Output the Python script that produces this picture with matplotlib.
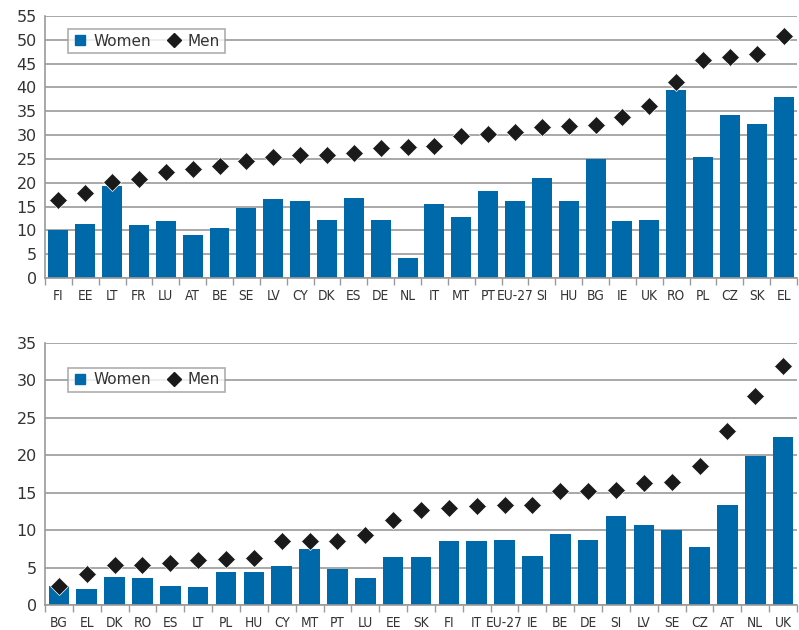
import numpy as np
import matplotlib
matplotlib.use("Agg")
import matplotlib.pyplot as plt
from matplotlib.lines import Line2D

# top panel
top_countries = ["FI", "EE", "LT", "FR", "LU", "AT", "BE", "SE", "LV", "CY", "DK", "ES", "DE", "NL",
                 "IT", "MT", "PT", "EU-27", "SI", "HU", "BG", "IE", "UK", "RO", "PL", "CZ", "SK", "EL"]
top_women = [10.0, 11.4, 19.4, 11.2, 11.9, 9.1, 10.6, 14.6, 16.5, 16.1, 12.1, 16.9, 12.1, 4.1,
             15.6, 12.9, 18.2, 16.1, 20.9, 16.1, 24.9, 11.9, 12.1, 39.4, 25.5, 34.2, 32.3, 38.0]
top_men = [16.4, 17.8, 20.1, 20.8, 22.2, 22.9, 23.6, 24.6, 25.3, 25.8, 25.8, 26.2, 27.3, 27.4,
           27.8, 29.8, 30.2, 30.7, 31.7, 32.0, 32.1, 33.8, 36.1, 41.1, 45.7, 46.3, 47.1, 50.7]

# bottom panel
bot_countries = ["BG", "EL", "DK", "RO", "ES", "LT", "PL", "HU", "CY", "MT", "PT", "LU", "EE", "SK",
                 "FI", "IT", "EU-27", "IE", "BE", "DE", "SI", "LV", "SE", "CZ", "AT", "NL", "UK"]
bot_women = [2.6, 2.2, 3.7, 3.6, 2.5, 2.4, 4.4, 4.4, 5.2, 7.5, 4.8, 3.6, 6.4, 6.4,
             8.5, 8.5, 8.7, 6.5, 9.5, 8.7, 11.9, 10.7, 10.0, 7.7, 13.3, 19.9, 22.5]
bot_men = [2.6, 4.2, 5.3, 5.4, 5.6, 6.0, 6.2, 6.3, 8.6, 8.6, 8.6, 9.3, 11.3, 12.7,
           12.9, 13.2, 13.4, 13.4, 15.2, 15.2, 15.4, 16.3, 16.4, 18.6, 23.3, 27.9, 31.9]

blue = "#0069AA"
grey = "#9a9a9a"


def draw_panel(ax, countries, women, men, ymax, leg_y):
    x = np.arange(len(countries))
    ax.set_axisbelow(True)
    ax.yaxis.grid(True, color=grey, linewidth=1.2)
    ax.bar(x, women, width=0.74, color=blue, zorder=2)
    ax.plot(x, men, linestyle="none", marker="D", markersize=9, color="#1a1a1a",
            markeredgecolor="white", markeredgewidth=0.5, zorder=3, clip_on=False)
    ax.set_xlim(-0.5, len(countries) - 0.5)
    ax.set_ylim(0, ymax)
    ax.set_yticks(np.arange(0, ymax + 1, 5))
    ax.set_xticks(x)
    ax.set_xticklabels(countries, fontsize=9.8, family="DejaVu Sans", stretch="condensed",
                       color="#333333")
    ax.set_xticks(np.arange(-0.5, len(countries), 1), minor=True)
    ax.tick_params(axis="x", which="major", length=0, pad=8)
    ax.tick_params(axis="x", which="minor", length=5, color=grey, width=1)
    ax.tick_params(axis="y", length=0, labelsize=11.5, labelcolor="#333333", pad=6)
    for s in ["top", "right"]:
        ax.spines[s].set_visible(False)
    for s in ["left", "bottom"]:
        ax.spines[s].set_color(grey)
        ax.spines[s].set_linewidth(1.2)
    handles = [Line2D([], [], linestyle="none", marker="s", markersize=7, color=blue),
               Line2D([], [], linestyle="none", marker="D", markersize=7, color="#1a1a1a")]
    leg = ax.legend(handles, ["Women", "Men"], loc="upper left", bbox_to_anchor=(0.03, leg_y),
                    ncol=2, fontsize=11, frameon=True, fancybox=False, handlelength=1,
                    handletextpad=0.4, columnspacing=1.0, borderpad=0.3,
                    borderaxespad=0)
    leg.get_frame().set_edgecolor(grey)
    leg.get_frame().set_linewidth(1.2)
    for t in leg.get_texts():
        t.set_color("#333333")


fig = plt.figure(figsize=(7.99, 6.30), dpi=100)
ax1 = fig.add_axes([0.0563, 0.5587, 0.9412, 0.4159])
ax2 = fig.add_axes([0.0563, 0.0397, 0.9412, 0.4159])
draw_panel(ax1, top_countries, top_women, top_men, 55, 0.95)
draw_panel(ax2, bot_countries, bot_women, bot_men, 35, 0.905)

fig.savefig("out.png", dpi=100)
